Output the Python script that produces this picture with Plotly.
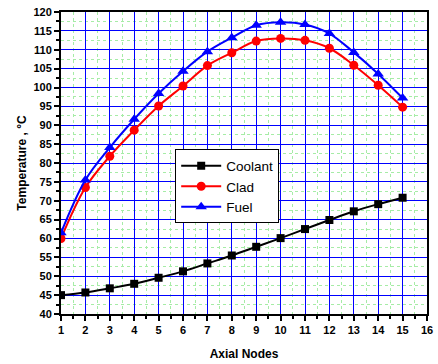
import plotly.graph_objects as go

nodes = list(range(1, 16))
coolant = [45.0, 45.7, 46.8, 48.0, 49.6, 51.3, 53.4, 55.5, 57.8, 60.1, 62.5, 64.9, 67.2, 69.1, 70.8]
clad = [60.0, 73.5, 81.8, 88.7, 95.1, 100.4, 105.8, 109.2, 112.3, 113.0, 112.5, 110.4, 105.9, 100.6, 94.8]
fuel = [61.5, 75.5, 84.1, 91.6, 98.4, 104.3, 109.5, 113.2, 116.5, 117.3, 116.7, 114.3, 109.3, 103.6, 97.2]

x_ticks = list(range(1, 17))
y_ticks = list(range(40, 121, 5))

fig = go.Figure()
fig.add_trace(go.Scatter(x=nodes, y=coolant, name="Coolant", mode="lines+markers",
                         line=dict(color="black", width=2, shape="spline"),
                         marker=dict(symbol="square", size=8, color="black")))
fig.add_trace(go.Scatter(x=nodes, y=clad, name="Clad", mode="lines+markers",
                         line=dict(color="red", width=2, shape="spline"),
                         marker=dict(symbol="circle", size=9, color="red")))
fig.add_trace(go.Scatter(x=nodes, y=fuel, name="Fuel", mode="lines+markers",
                         line=dict(color="blue", width=2, shape="spline"),
                         marker=dict(symbol="triangle-up", size=10, color="blue")))

axis_font = dict(family="Liberation Sans, Arial", size=11, color="black")
fig.update_layout(
    width=438, height=364,
    margin=dict(l=61, r=5, t=12, b=49),
    paper_bgcolor="white", plot_bgcolor="white",
    font=dict(family="Liberation Sans, Arial", color="black"),
    showlegend=True,
    legend=dict(x=0.312, y=0.545, xanchor="left", yanchor="top",
                bgcolor="white", bordercolor="black", borderwidth=1,
                font=dict(size=13.5, family="Liberation Sans, Arial"),
                tracegroupgap=0, itemwidth=40),
    xaxis=dict(range=[1, 16], tickvals=x_ticks, ticktext=[f"<b>{v}</b>" for v in x_ticks],
               tickfont=axis_font, showline=True, linecolor="black", linewidth=2, mirror=True,
               ticks="outside", ticklen=5, tickwidth=1.5, tickcolor="black",
               showgrid=True, gridcolor="blue", gridwidth=1, zeroline=False,
               minor=dict(dtick=0.5, showgrid=True, gridcolor="#a6eca6", griddash="dot",
                          gridwidth=1, ticks="outside", ticklen=3, tickcolor="black"),
               title=dict(text="<b>Axial Nodes</b>", font=dict(size=12), standoff=14)),
    yaxis=dict(range=[40, 120], tickvals=y_ticks, ticktext=[f"<b>{v}</b>" for v in y_ticks],
               tickfont=axis_font, showline=True, linecolor="black", linewidth=2, mirror=True,
               ticks="outside", ticklen=5, tickwidth=1.5, tickcolor="black",
               showgrid=True, gridcolor="blue", gridwidth=1, zeroline=False,
               minor=dict(dtick=2.5, showgrid=True, gridcolor="#a6eca6", griddash="dot",
                          gridwidth=1, ticks="outside", ticklen=3, tickcolor="black"),
               title=dict(text="<b>Temperature , °C</b>", font=dict(size=12), standoff=4)),
)

fig.write_html("out.html")
